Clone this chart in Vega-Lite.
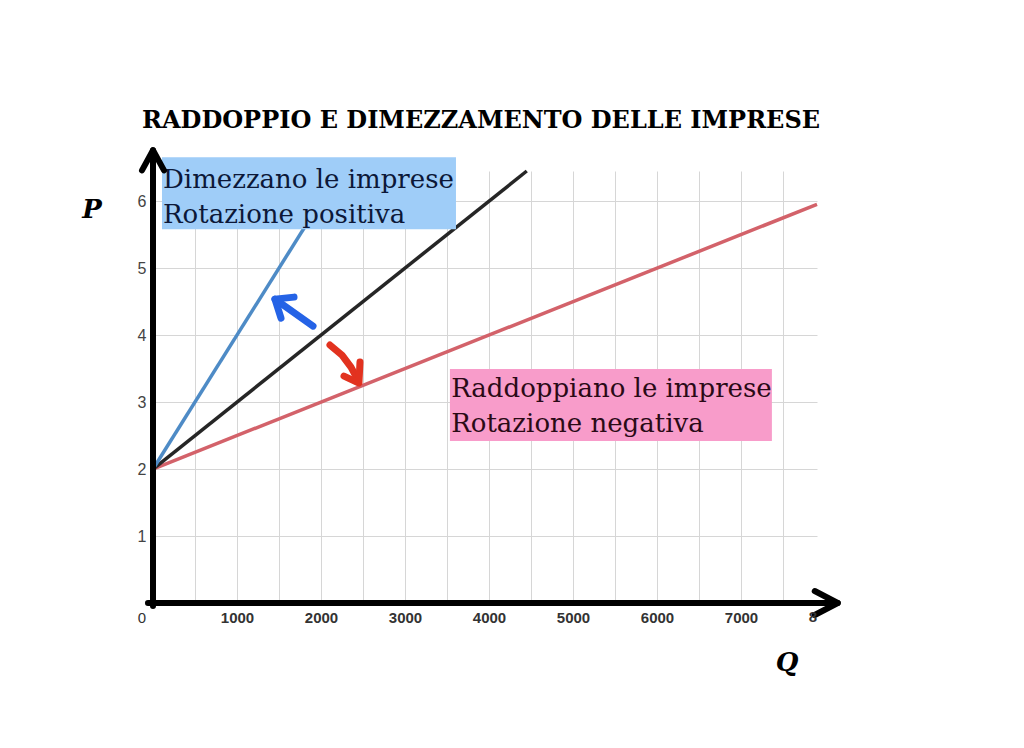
{
  "$schema": "https://vega.github.io/schema/vega-lite/v6.json",
  "width": 664,
  "height": 432,
  "autosize": "none",
  "padding": {"left": 153, "top": 171, "right": 207, "bottom": 145},
  "background": "white",
  "title": {
    "text": "RADDOPPIO E DIMEZZAMENTO DELLE IMPRESE",
    "font": "DejaVu Serif",
    "fontSize": 24,
    "fontWeight": "bold",
    "color": "black",
    "anchor": "start",
    "frame": "group",
    "dx": -11,
    "offset": 14
  },
  "config": {"view": {"stroke": null}},
  "datasets": {
    "curve": [
      {"serie": "rossa", "q": 0, "p": 2},
      {"serie": "rossa", "q": 7905, "p": 5.9525},
      {"serie": "nera", "q": 0, "p": 2},
      {"serie": "nera", "q": 4450, "p": 6.45},
      {"serie": "blu", "q": 0, "p": 2},
      {"serie": "blu", "q": 2225, "p": 6.45}
    ],
    "riquadri": [
      {"etichetta": "dimezzano", "q": 107, "q2": 3607, "p": 5.582, "p2": 6.657},
      {"etichetta": "raddoppiano", "q": 3535, "q2": 7368, "p": 2.418, "p2": 3.493}
    ],
    "testi": [
      {"etichetta": "dimezzano", "q": 119, "p": 6.194, "testo": "Dimezzano le imprese\nRotazione positiva"},
      {"etichetta": "raddoppiano", "q": 3550, "p": 3.075, "testo": "Raddoppiano le imprese\nRotazione negativa"}
    ],
    "frecce": [
      {"freccia": "blu", "tratto": "b1", "ord": 1, "q": 1905, "p": 4.134},
      {"freccia": "blu", "tratto": "b1", "ord": 2, "q": 1452, "p": 4.537},
      {"freccia": "blu", "tratto": "b2", "ord": 1, "q": 1679, "p": 4.567},
      {"freccia": "blu", "tratto": "b2", "ord": 2, "q": 1452, "p": 4.537},
      {"freccia": "blu", "tratto": "b2", "ord": 3, "q": 1524, "p": 4.254},
      {"freccia": "rossa", "tratto": "r1", "ord": 1, "q": 2107, "p": 3.851},
      {"freccia": "rossa", "tratto": "r1", "ord": 2, "q": 2250, "p": 3.701},
      {"freccia": "rossa", "tratto": "r1", "ord": 3, "q": 2357, "p": 3.522},
      {"freccia": "rossa", "tratto": "r1", "ord": 4, "q": 2440, "p": 3.328},
      {"freccia": "rossa", "tratto": "r2", "ord": 1, "q": 2274, "p": 3.388},
      {"freccia": "rossa", "tratto": "r2", "ord": 2, "q": 2452, "p": 3.284},
      {"freccia": "rossa", "tratto": "r2", "ord": 3, "q": 2464, "p": 3.597}
    ],
    "assi": [
      {"tratto": "x", "ord": 1, "q": -60, "p": 0},
      {"tratto": "x", "ord": 2, "q": 8152, "p": 0},
      {"tratto": "xp", "ord": 1, "q": 7878, "p": 0.179},
      {"tratto": "xp", "ord": 2, "q": 8152, "p": 0},
      {"tratto": "xp", "ord": 3, "q": 7878, "p": -0.179},
      {"tratto": "y", "ord": 1, "q": 0, "p": -0.045},
      {"tratto": "y", "ord": 2, "q": 0, "p": 6.76},
      {"tratto": "yp", "ord": 1, "q": -131, "p": 6.46},
      {"tratto": "yp", "ord": 2, "q": 0, "p": 6.76},
      {"tratto": "yp", "ord": 3, "q": 131, "p": 6.46}
    ],
    "lettere": [
      {"lettera": "P", "q": -726, "p": 5.866},
      {"lettera": "Q", "q": 7548, "p": -0.896}
    ],
    "troncata": [
      {"etichetta": "8", "q": 7857, "p": -0.21}
    ]
  },
  "encoding": {
    "x": {
      "field": "q",
      "type": "quantitative",
      "title": null,
      "scale": {"domain": [0, 7905], "nice": false, "zero": false},
      "axis": {
        "values": [0, 500, 1000, 1500, 2000, 2500, 3000, 3500, 4000, 4500, 5000, 5500, 6000, 6500, 7000, 7500],
        "format": "d",
        "labelExpr": "datum.value % 1000 == 0 ? datum.label : ''",
        "domain": false,
        "ticks": false,
        "grid": true,
        "gridColor": "#d6d6d6",
        "gridWidth": 1,
        "gridOpacity": {"condition": {"test": "datum.value == 0", "value": 0}, "value": 1},
        "labelFont": "Liberation Sans",
        "labelFontSize": 15,
        "labelFontWeight": {"condition": {"test": "datum.value == 0", "value": "normal"}, "value": "bold"},
        "labelColor": "#333333",
        "labelPadding": 7,
        "labelOffset": {"condition": {"test": "datum.value == 0", "value": -11.5}, "value": 0},
        "labelOverlap": false,
        "labelFlush": false
      }
    },
    "y": {
      "field": "p",
      "type": "quantitative",
      "title": null,
      "scale": {"domain": [0, 6.45], "nice": false, "zero": false},
      "axis": {
        "values": [1, 2, 3, 4, 5, 6],
        "domain": false,
        "ticks": false,
        "grid": true,
        "gridColor": "#d6d6d6",
        "gridWidth": 1,
        "labelFont": "Liberation Sans",
        "labelFontSize": 16,
        "labelColor": "#444444",
        "labelPadding": 7
      }
    }
  },
  "layer": [
    {
      "data": {"name": "curve"},
      "mark": {"type": "line", "strokeWidth": 3.5},
      "encoding": {
        "detail": {"field": "serie"},
        "color": {
          "field": "serie",
          "type": "nominal",
          "legend": null,
          "scale": {"domain": ["blu", "nera", "rossa"], "range": ["#4e8bc6", "#262626", "#d3626a"]}
        }
      }
    },
    {
      "data": {"name": "riquadri"},
      "mark": {"type": "rect"},
      "encoding": {
        "x2": {"field": "q2"},
        "y2": {"field": "p2"},
        "color": {
          "field": "etichetta",
          "type": "nominal",
          "legend": null,
          "scale": {"domain": ["dimezzano", "raddoppiano"], "range": ["#9fcdf8", "#f89cca"]}
        }
      }
    },
    {
      "data": {"name": "testi"},
      "mark": {
        "type": "text",
        "align": "left",
        "baseline": "alphabetic",
        "font": "DejaVu Serif",
        "fontSize": 26,
        "lineHeight": 35,
        "lineBreak": "\n"
      },
      "encoding": {
        "text": {"field": "testo"},
        "color": {
          "field": "etichetta",
          "type": "nominal",
          "legend": null,
          "scale": {"domain": ["dimezzano", "raddoppiano"], "range": ["#0c1838", "#2a0a16"]}
        }
      }
    },
    {
      "data": {"name": "frecce"},
      "mark": {"type": "line", "strokeWidth": 7, "strokeCap": "round", "strokeJoin": "round"},
      "encoding": {
        "detail": {"field": "tratto"},
        "order": {"field": "ord"},
        "color": {
          "field": "freccia",
          "type": "nominal",
          "legend": null,
          "scale": {"domain": ["blu", "rossa"], "range": ["#2563e6", "#e2321f"]}
        }
      }
    },
    {
      "data": {"name": "assi"},
      "mark": {"type": "line", "strokeWidth": 6, "strokeCap": "round", "strokeJoin": "round", "color": "black"},
      "encoding": {
        "detail": {"field": "tratto"},
        "order": {"field": "ord"}
      }
    },
    {
      "data": {"name": "lettere"},
      "mark": {
        "type": "text",
        "align": "center",
        "baseline": "middle",
        "font": "DejaVu Serif",
        "fontSize": 26,
        "fontWeight": "bold",
        "fontStyle": "italic",
        "color": "black"
      },
      "encoding": {
        "text": {"field": "lettera"}
      }
    },
    {
      "data": {"name": "troncata"},
      "mark": {
        "type": "text",
        "align": "center",
        "baseline": "middle",
        "font": "Liberation Sans",
        "fontSize": 15,
        "fontWeight": "bold",
        "color": "#333333"
      },
      "encoding": {
        "text": {"field": "etichetta"}
      }
    }
  ],
  "resolve": {"scale": {"color": "independent"}}
}
